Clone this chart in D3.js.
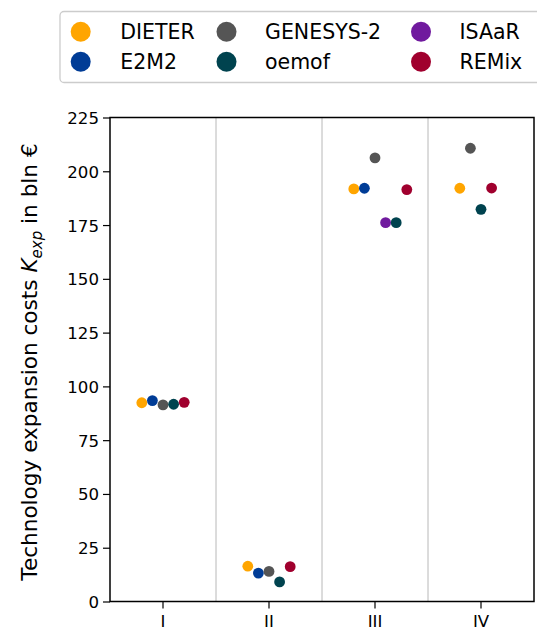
<!DOCTYPE html>
<html>
<head>
<meta charset="utf-8">
<script src="https://cdn.jsdelivr.net/npm/d3@7"></script>
<style>
  body { margin: 0; background: #fff; }
  svg { font-family: "DejaVu Sans", sans-serif; display: block; }
</style>
</head>
<body>
<div id="chart"></div>
<script>
// scenarios on the x axis
var categories = ["I", "II", "III", "IV"];
var models = ["DIETER", "E2M2", "GENESYS-2", "ISAaR", "oemof", "REMix"];
var colors = ["#ffa500", "#003c96", "#555555", "#701a9e", "#00434f", "#a0002e"];
// legend is filled column by column
var legendOrder = ["DIETER", "E2M2", "GENESYS-2", "oemof", "ISAaR", "REMix"];
var yTicks = [0, 25, 50, 75, 100, 125, 150, 175, 200, 225];

// expansion costs in bln EUR, one value per scenario (null = no result)
var dieter  = [92.4, 16.4, 191.8, 192.1];
var e2m2    = [93.4, 13.2, 192.1, null];
var genesys = [91.4, 14.0, 206.2, 210.7];
var isaar   = [null, null, 176.1, null];
var oemof   = [91.7, 9.1, 176.1, 182.3];
var remix   = [92.6, 16.2, 191.5, 192.2];
var series = [dieter, e2m2, genesys, isaar, oemof, remix];

var w = 537, h = 630;
var margin = {left: 110, right: 3, top: 117.5, bottom: 28.5};

var svg = d3.select("#chart").append("svg")
  .attr("width", w)
  .attr("height", h);

var x = d3.scaleBand()
  .domain(categories)
  .range([margin.left, w - margin.right]);

var y = d3.scaleLinear()
  .domain([0, 225])
  .range([h - margin.bottom, margin.top]);

var color = d3.scaleOrdinal().domain(models).range(colors);

// separators between scenarios
svg.selectAll("line.sep")
  .data(categories.slice(1))
  .enter()
  .append("line")
    .attr("class", "sep")
    .attr("x1", function(d) { return x(d); })
    .attr("x2", function(d) { return x(d); })
    .attr("y1", y(225))
    .attr("y2", y(0))
    .attr("stroke", "#b8b8b8")
    .attr("stroke-width", 1);

// build points: models present in a category are lined up left to right
var points = [];
categories.forEach(function(c, ci) {
  var k = 0;
  models.forEach(function(m, mi) {
    var v = series[mi][ci];
    if (v === null) return;
    points.push({cat: c, model: m, value: v, slot: k});
    k++;
  });
});

var step = x.bandwidth() * 0.1;

svg.selectAll("circle.pt")
  .data(points)
  .enter()
  .append("circle")
    .attr("class", "pt")
    .attr("cx", function(d) { return x(d.cat) + x.bandwidth() / 2 + (d.slot - 2) * step; })
    .attr("cy", function(d) { return y(d.value); })
    .attr("r", 5.4)
    .attr("fill", function(d) { return color(d.model); });

// axes
var yAxis = svg.append("g")
  .attr("transform", "translate(" + margin.left + ",0)")
  .call(d3.axisLeft(y).tickValues(yTicks).tickSize(7).tickPadding(4));

var xAxis = svg.append("g")
  .attr("transform", "translate(0," + (h - margin.bottom) + ")")
  .call(d3.axisBottom(x).tickSize(7).tickPadding(4));

[yAxis, xAxis].forEach(function(g) {
  g.select(".domain").remove();
  g.selectAll(".tick line").attr("stroke", "#000").attr("stroke-width", 1.2);
  g.selectAll(".tick text")
    .attr("fill", "#000")
    .attr("font-size", 16.6)
    .attr("font-family", "DejaVu Sans, sans-serif");
});
yAxis.selectAll(".tick text").attr("dy", "0.36em");
xAxis.selectAll(".tick text").attr("dy", "0.9em");

// frame
svg.append("rect")
  .attr("x", margin.left)
  .attr("y", y(225))
  .attr("width", w - margin.right - margin.left)
  .attr("height", y(0) - y(225))
  .attr("fill", "none")
  .attr("stroke", "#000")
  .attr("stroke-width", 1.5);

// y label
var lab = svg.append("text")
  .attr("transform", "translate(37,362) rotate(-90)")
  .attr("text-anchor", "middle")
  .attr("font-size", 21.6)
  .attr("fill", "#000");
lab.append("tspan").text("Technology expansion costs ");
lab.append("tspan").attr("font-style", "italic").text("K");
lab.append("tspan").attr("font-style", "italic").attr("font-size", 15).attr("dy", 4.5).text("exp");
lab.append("tspan").attr("dy", -4.5).text(" in bln \u20ac");

// legend
var legend = svg.append("g");
legend.append("rect")
  .attr("x", 60)
  .attr("y", 11.5)
  .attr("width", 500)
  .attr("height", 71)
  .attr("rx", 4)
  .attr("fill", "#fff")
  .attr("stroke", "#cccccc")
  .attr("stroke-width", 1.3);

var colX = [80.7, 226.5, 421];
var rowY = [31.7, 61.7];

var items = legend.selectAll("g.item")
  .data(legendOrder)
  .enter()
  .append("g")
    .attr("class", "item")
    .attr("transform", function(d, i) {
      return "translate(" + colX[Math.floor(i / 2)] + "," + rowY[i % 2] + ")";
    });

items.append("circle")
  .attr("r", 10)
  .attr("fill", function(d) { return color(d); });

items.append("text")
  .attr("x", function(d, i) { return Math.floor(i / 2) === 0 ? 39.5 : 38.5; })
  .attr("dy", "0.36em")
  .attr("font-size", 20.5)
  .attr("fill", "#000")
  .text(function(d) { return d; });
</script>
</body>
</html>
